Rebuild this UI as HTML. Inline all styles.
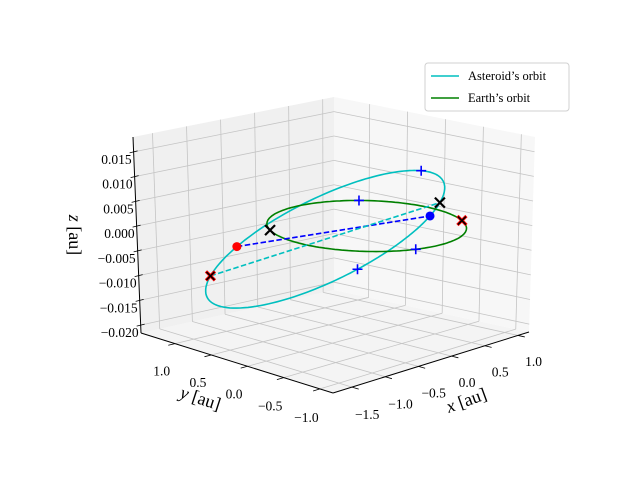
<!DOCTYPE html>
<html><head><meta charset="utf-8"><style>
html,body{margin:0;padding:0;background:#fff;}
svg{display:block;font-family:"Liberation Serif",serif;}
</style></head><body>
<svg id="chart" width="640" height="480" viewBox="0 0 640 480" xmlns="http://www.w3.org/2000/svg">
<g id="panes"></g>
<g id="grid"></g>
<g id="axes"></g>
<g id="series"></g>
<g id="labels"></g>
<text x="73" y="235" font-size="18" text-anchor="middle" dominant-baseline="middle" transform="rotate(90 73 235)"><tspan font-style="italic">z</tspan> [au]</text>
<text x="200" y="400" font-size="18" text-anchor="middle" dominant-baseline="middle" transform="rotate(18 200 400)"><tspan font-style="italic">y</tspan> [au]</text>
<text x="467" y="402" font-size="18" text-anchor="middle" dominant-baseline="middle" transform="rotate(-20 467 402)"><tspan font-style="italic">x</tspan> [au]</text>
<g>
<rect x="425" y="63" width="144" height="48" rx="3" fill="#fff" fill-opacity="0.85" stroke="#d0d0d0" stroke-width="1"/>
<line x1="431" y1="76" x2="459" y2="76" stroke="#00bfbf" stroke-width="1.5"/>
<text x="468" y="80" font-size="12.5">Asteroid’s orbit</text>
<line x1="431" y1="98" x2="459" y2="98" stroke="#008000" stroke-width="1.5"/>
<text x="468" y="102" font-size="12.5">Earth’s orbit</text>
</g>
</svg>
<script>
// ---- axis data ----
const xTicks = [-1.5, -1.0, -0.5, 0.0, 0.5, 1.0];
const yTicks = [-1.0, -0.5, 0.0, 0.5, 1.0];
const zTicks = [-0.020, -0.015, -0.010, -0.005, 0.000, 0.005, 0.010, 0.015];
const xTickLabels = ["\u22121.5","\u22121.0","\u22120.5","0.0","0.5","1.0"];
const yTickLabels = ["\u22121.0","\u22120.5","0.0","0.5","1.0"];
const zTickLabels = ["\u22120.020","\u22120.015","\u22120.010","\u22120.005","0.000","0.005","0.010","0.015"];
const xLimits = [-1.786, 1.166];
const yLimits = [-1.18, 1.47];
const zLimits = [-0.0216, 0.0180];
// ---- series data (orbital elements) ----
const orbitNames = ["asteroid", "earth"];
const semiMajor = [1.205, 1.0];
const eccentricity = [0.362, 0.0];
const inclinationDeg = [0.94, 0.0];
const nodeDeg = [168, 0];
const periArgDeg = [162, 0];
const orbitColors = ["#00bfbf", "#008000"];
// markers: orbit index, ecliptic longitude (deg), symbol
const markerOrbit = [0, 0, 1, 1, 0, 1, 0, 0, 1, 1, 0, 0];
const markerLon   = [258, 48, 47, 252, 150, 330, 330, 150, 330, 147, 168, 348];
const markerSymbol= ["plusB","plusB","plusB","plusB","xR","xR","xK","xKs","xKs","xK","dotR","dotB"];
// dashed lines: orbit index + two longitudes
const dashOrbit = [0, 0];
const dashLonA  = [168, 150];
const dashLonB  = [348, 330];
const dashColors = ["#0000ff", "#00bfbf"];

const NS = "http://www.w3.org/2000/svg";
function mk(tag, attrs, parent){const e=document.createElementNS(NS,tag);for(const k in attrs)e.setAttribute(k,attrs[k]);parent.appendChild(e);return e;}

const C = {"000":[333,393],"100":[529,332],"010":[141,333],"110":[334,290],
           "001":[334,195],"101":[535,137],"011":[133,137],"111":[334,97]};
function T(u,v,w){
  function bil(s){const a=C["00"+s],b=C["10"+s],c=C["01"+s],d=C["11"+s];
    return [a[0]*(1-u)*(1-v)+b[0]*u*(1-v)+c[0]*(1-u)*v+d[0]*u*v,
            a[1]*(1-u)*(1-v)+b[1]*u*(1-v)+c[1]*(1-u)*v+d[1]*u*v];}
  const p=bil("0"),q=bil("1");return [p[0]*(1-w)+q[0]*w,p[1]*(1-w)+q[1]*w];
}
const U=x=>(x-xLimits[0])/(xLimits[1]-xLimits[0]);
const V=y=>(y-yLimits[0])/(yLimits[1]-yLimits[0]);
const W=z=>(z-zLimits[0])/(zLimits[1]-zLimits[0]);
const zScale = 195/(zLimits[1]-zLimits[0]);
function proj(x,y,z){return [366.7+67.5*x-73.5*y, 226-17.2*x-18.9*y-zScale*z];}
const pts=a=>a.map(p=>p[0].toFixed(1)+","+p[1].toFixed(1)).join(" ");

const panes=document.getElementById("panes");
let e;
e=mk("polygon",{points:pts([T(0,0,0),T(1,0,0),T(1,1,0),T(0,1,0)]),fill:"#f4f4f4"},panes);


e=mk("polygon",{points:pts([T(0,1,0),T(1,1,0),T(1,1,1),T(0,1,1)]),fill:"#f0f0f0"},panes);


e=mk("polygon",{points:pts([T(1,0,0),T(1,1,0),T(1,1,1),T(1,0,1)]),fill:"#f7f7f7"},panes);



const grid=document.getElementById("grid");
function gl(a,b,name){const l=mk("line",{x1:a[0],y1:a[1],x2:b[0],y2:b[1],stroke:"#c4c4c4","stroke-width":0.8},grid);
  
  }
xTicks.forEach(t=>{const u=U(t);gl(T(u,1,0),T(u,1,1),"x-gridline");gl(T(u,0,0),T(u,1,0),"x-gridline");});
yTicks.forEach(t=>{const v=V(t);gl(T(1,v,0),T(1,v,1),"y-gridline");gl(T(0,v,0),T(1,v,0),"y-gridline");});
zTicks.forEach(t=>{const w=W(t);gl(T(0,1,w),T(1,1,w),"z-gridline");gl(T(1,0,w),T(1,1,w),"z-gridline");});

const axes=document.getElementById("axes");
function al(a,b,name,sw){const l=mk("line",{x1:a[0],y1:a[1],x2:b[0],y2:b[1],stroke:"#000","stroke-width":sw},axes);
  
  }
al(T(0,0,0),T(1,0,0),"x-axis-line",1);
al(T(0,0,0),T(0,1,0),"y-axis-line",1);
al(T(0,1,0),T(0,1,1),"z-axis-line",1);
const labels=document.getElementById("labels");
function tl(p,txt,name){const t=mk("text",{x:p[0].toFixed(1),y:p[1].toFixed(1),"font-size":13.5,"text-anchor":"middle","dominant-baseline":"middle"},labels);
  t.textContent=txt;
  
  return t;}
xTicks.forEach((t,i)=>{const u=U(t);al(T(u,0,0),T(u,-0.035,0),"x-tick",0.8);
  const p=T(u,-0.1,0);tl([p[0]-4,p[1]+23],xTickLabels[i],"x-tick-label");});
yTicks.forEach((t,i)=>{const v=V(t);al(T(0,v,0),T(-0.035,v,0),"y-tick",0.8);
  const p=T(-0.1,v,0);tl([p[0]+6,p[1]+24],yTickLabels[i],"y-tick-label");});
zTicks.forEach((t,i)=>{const w=W(t);const a=T(0,1,w);al([a[0]-4,a[1]+1],[a[0]+4,a[1]-1],"z-tick",0.8);
  const lab=tl([a[0]-2,a[1]+9],zTickLabels[i],"z-tick-label");lab.setAttribute("text-anchor","end");});

function orbitPos(k,lonDeg){
  const d=Math.PI/180,Om=nodeDeg[k]*d,inc=inclinationDeg[k]*d,w=periArgDeg[k]*d;
  const u=lonDeg*d-Om,nu=u-w;
  const r=semiMajor[k]*(1-eccentricity[k]**2)/(1+eccentricity[k]*Math.cos(nu));
  return [r*(Math.cos(Om)*Math.cos(u)-Math.sin(Om)*Math.sin(u)*Math.cos(inc)),
          r*(Math.sin(Om)*Math.cos(u)+Math.cos(Om)*Math.sin(u)*Math.cos(inc)),
          r*Math.sin(u)*Math.sin(inc)];
}
const series=document.getElementById("series");
orbitNames.forEach((nm,k)=>{
  const arr=[];for(let a=0;a<=360;a+=2){const p=orbitPos(k,a);arr.push(proj(p[0],p[1],p[2]));}
  const pl=mk("polyline",{points:pts(arr),fill:"none",stroke:orbitColors[k],"stroke-width":1.6},series);
  
  
});
dashOrbit.forEach((k,i)=>{
  const a=orbitPos(k,dashLonA[i]),b=orbitPos(k,dashLonB[i]);
  const pa=proj(a[0],a[1],a[2]),pb=proj(b[0],b[1],b[2]);
  const l=mk("line",{x1:pa[0],y1:pa[1],x2:pb[0],y2:pb[1],stroke:dashColors[i],"stroke-width":1.6,"stroke-dasharray":"5.5,2.5"},series);
  
  
});
markerOrbit.forEach((k,i)=>{
  const p=orbitPos(k,markerLon[i]);const s=proj(p[0],p[1],p[2]);const x=s[0],y=s[1];
  const sym=markerSymbol[i];let g=mk("g",{},series);
  
  
  if(sym==="plusB"){mk("path",{d:`M${x-5},${y}H${x+5}M${x},${y-5}V${y+5}`,stroke:"#0000ff","stroke-width":1.6},g);}
  else if(sym==="xR"){mk("path",{d:`M${x-4.5},${y-4.5}L${x+4.5},${y+4.5}M${x-4.5},${y+4.5}L${x+4.5},${y-4.5}`,stroke:"#ff0000","stroke-width":3.2},g);}
  else if(sym==="xK"){mk("path",{d:`M${x-5},${y-5}L${x+5},${y+5}M${x-5},${y+5}L${x+5},${y-5}`,stroke:"#000","stroke-width":2.2},g);}
  else if(sym==="xKs"){mk("path",{d:`M${x-4},${y-4}L${x+4},${y+4}M${x-4},${y+4}L${x+4},${y-4}`,stroke:"#000","stroke-width":1.5},g);}
  else {mk("circle",{cx:x,cy:y,r:4.5,fill:sym==="dotR"?"#ff0000":"#0000ff"},g);}
});
</script>
</body></html>
